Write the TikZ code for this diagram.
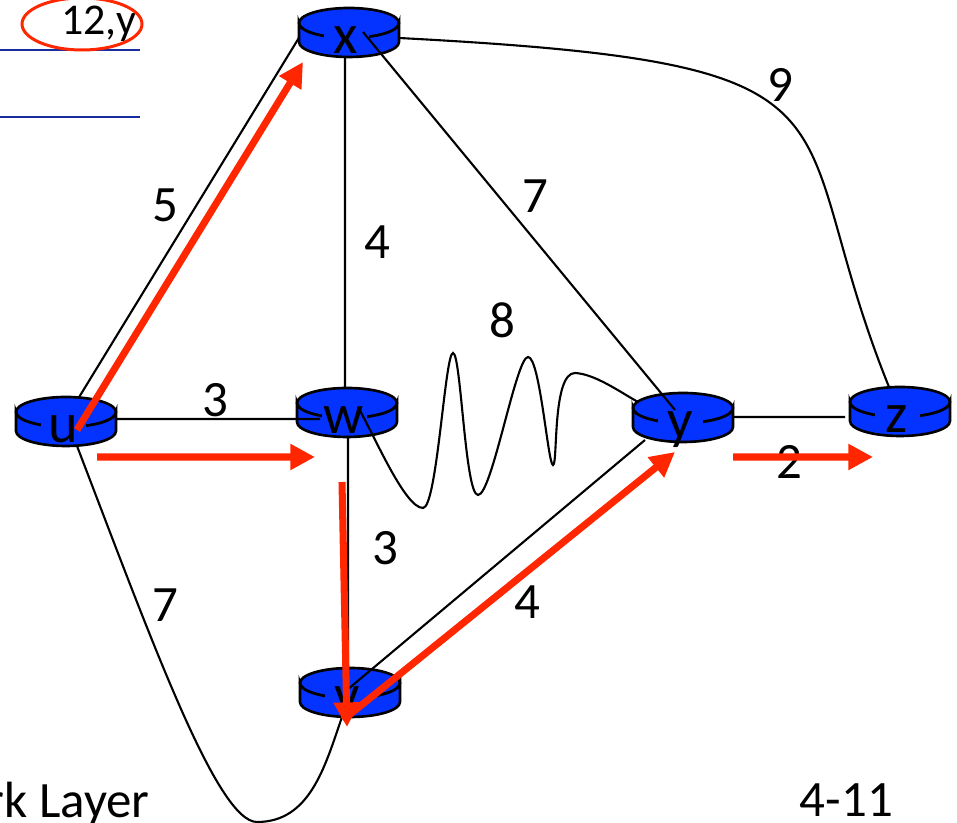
\documentclass[tikz,border=0pt]{standalone}
\usepackage{fontspec}
\setmainfont{Carlito}
\usetikzlibrary{positioning, arrows.meta, shapes.geometric, backgrounds}
\definecolor{routerblue}{RGB}{4, 51, 255}
\definecolor{pathred}{RGB}{255, 38, 0}
\definecolor{tableblue}{RGB}{25, 45, 160}

\begin{document}
\begin{tikzpicture}[
    router/.style={ellipse, draw=black, line width=1.5pt, fill=routerblue,
                   minimum width=2cm, minimum height=0.6cm, inner sep=0pt, outer sep=0pt},
    rname/.style={fill=routerblue, inner sep=0pt, minimum width=0.9cm,
                  text height=0.5cm, text depth=0pt, anchor=base,
                  font=\fontsize{32}{36}\selectfont},
    link/.style={line width=1.2pt},
    cost/.style={font=\fontsize{29}{32}\selectfont},
    hop/.style={pathred, line width=4pt, -{Triangle[length=14pt, width=14pt]}}]
        \useasboundingbox (0,0) rectangle (19.14,16.46);
        \clip (0,0) rectangle (19.14,16.46);

        % routers
        \node[router] (x) at (6.98, 16.0) {};
        \node[router] (u) at (1.32, 8.22) {};
        \node[router] (w) at (6.94, 8.4) {};
        \node[router] (y) at (13.66, 8.3) {};
        \node[router] (z) at (18.0, 8.42) {};
        \node[router] (v) at (7.0, 2.8) {};
        \foreach \r in {x,u,w,y,z,v}{
          \filldraw[fill=routerblue, line width=1.5pt] (\r.west) -- ++(0,-0.38)
                arc[start angle=180, end angle=360, x radius=1cm, y radius=0.3cm]
                -- (\r.east)
                arc[start angle=0, end angle=-180, x radius=1cm, y radius=0.3cm] -- cycle;
          \node[rname] (\r-name) at ([shift={(-0.06,-0.62)}]\r.center) {\r};
        }

        % links hidden behind the routers
        \begin{scope}[on background layer]
          \draw[link] ([xshift=0.08cm]u.center) -- ([xshift=0.18cm]x.west);
          \draw[link] ([xshift=-0.08cm]x.center) -- ([xshift=-0.04cm]w.center);
          \draw[link] ([xshift=0.02cm]w.center) -- ([xshift=-0.04cm]v.center);
        \end{scope}

        % links on top
        \draw[link] ([shift={(0.28,-0.18)}]x.center) -- ([shift={(-0.16,-0.04)}]y.center);
        \draw[link] ([yshift=-0.3cm]x.east)
              to[out=-3, in=112, out distance=9.9cm, in distance=6cm] ([xshift=-0.22cm]z.north);
        \draw[link] ([yshift=-0.14cm]u.east) -- ([shift={(-0.54,-0.32)}]w.center);
        \coordinate (uvlow) at (5.14, 0.02);
        \draw[link] ([shift={(0.22,-0.38)}]u.south)
              to[out=-69, in=180, out distance=4.1cm, in distance=0.8cm] (uvlow)
              to[out=0, in=-109] ([shift={(-0.16,-0.38)}]v.south);
        \draw[link] ([shift={(0.22,-0.08)}]w.center)
              .. controls (7.5,7.72) and (8.1,6.3) .. (8.46,6.3)
              .. controls (8.74,6.3) and (8.9,9.4) .. (9.06,9.4)
              .. controls (9.22,9.4) and (9.3,6.56) .. (9.56,6.56)
              .. controls (9.84,6.56) and (10.32,9.32) .. (10.56,9.32)
              .. controls (10.8,9.32) and (10.96,7.16) .. (11.06,7.16)
              .. controls (11.16,7.16) and (11.04,9.0) .. (11.5,9.0)
              .. controls (11.9,8.98) and (12.4,8.62) .. ([shift={(-0.9,0.12)}]y.center);
        \draw[link] ([shift={(-0.06,-0.14)}]v.center) -- ([shift={(-0.76,-0.64)}]y.center);
        \draw[link] ([yshift=-0.18cm]y.east) -- ([shift={(-0.1,-0.3)}]z.west);

        % link costs
        \node[cost] (c-ux) at (3.3, 12.36) {5};
        \node[cost] (c-xw) at (7.54, 11.62) {4};
        \node[cost] (c-xy) at (10.7, 12.54) {7};
        \node[cost] (c-xz) at (15.6, 14.76) {9};
        \node[cost] (c-wy) at (10.04, 10.06) {8};
        \node[cost] (c-uw) at (4.3, 8.46) {3};
        \node[cost] (c-wv) at (7.7, 5.5) {3};
        \node[cost] (c-uv) at (3.3, 4.36) {7};
        \node[cost] (c-vy) at (10.54, 4.42) {4};
        \node[cost] (c-yz) at (15.78, 7.22) {2};

        % shortest-path tree
        \draw[hop] ([shift={(0.22,-0.36)}]u.center) -- ([shift={(-0.92,-0.78)}]x.center);
        \draw[hop] ([shift={(0.62,-0.9)}]u.center) -- ([shift={(-0.64,-1.08)}]w.center);
        \draw[hop] ([shift={(-0.1,-1.58)}]w.center) -- ([shift={(-0.06,-0.88)}]v.center);
        \draw[hop] ([shift={(-0.14,-0.74)}]v.center) -- ([shift={(-0.16,-0.88)}]y.center);
        \draw[hop] ([shift={(1.0,-0.98)}]y.center) -- ([shift={(-0.54,-1.1)}]z.center);

        % table corner and footer
        \draw[tableblue, line width=1.3pt] (0,15.46) -- (2.8,15.46);
        \draw[tableblue, line width=1.3pt] (0,14.12) -- (2.8,14.12);
        \node[font=\fontsize{25}{28}\selectfont, anchor=base] (entry) at (1.98,15.76) {12,y};
        \draw[pathred, line width=1.7pt] (1.64,15.98) ellipse [x radius=1.2, y radius=0.52];
        \node[cost, inner sep=0pt, anchor=base east] (chapter) at (3.0,0.1) {rk Layer};
        \node[cost, inner sep=0pt, anchor=base] (page) at (16.93,0.12) {4-11};
      \end{tikzpicture}
\end{document}
